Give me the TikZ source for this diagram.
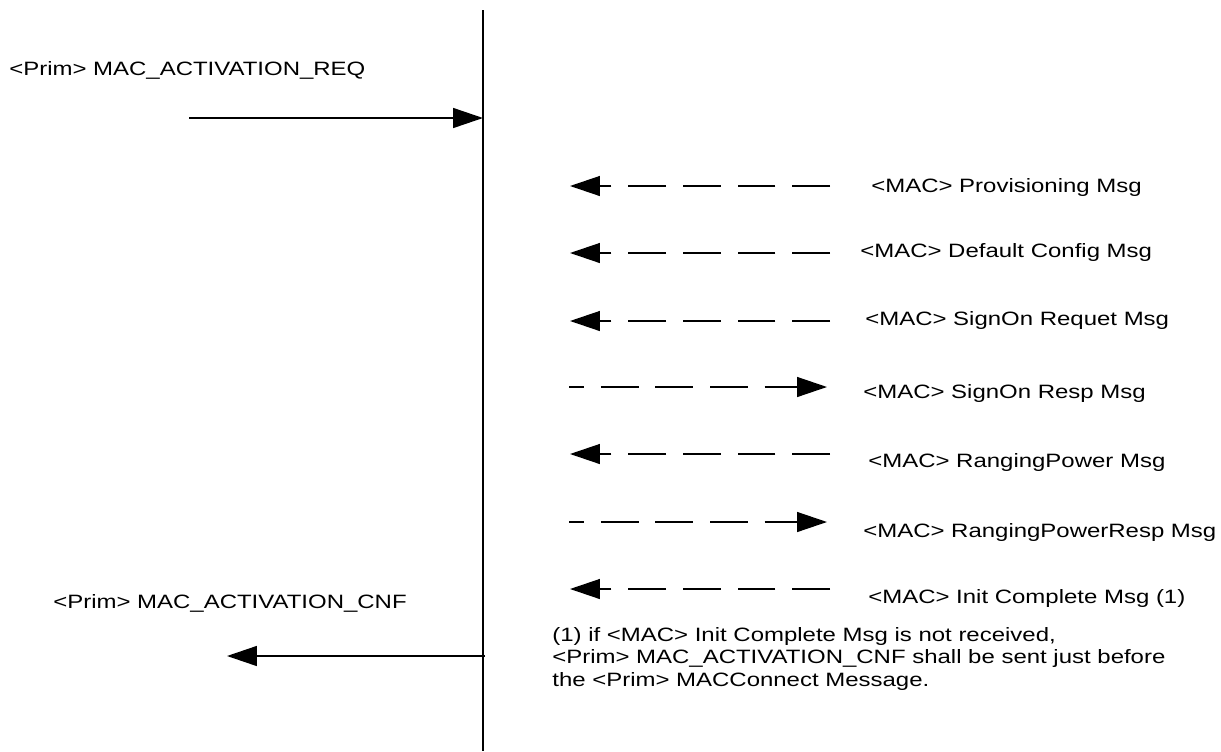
\documentclass[tikz,border=0pt]{standalone}
\usepackage{fontspec}
\setmainfont{Liberation Sans}[FakeStretch=1.24]
\usepackage{tikz}
\usetikzlibrary{arrows.meta, positioning, calc}

\begin{document}
\begin{tikzpicture}[
  x=0.02cm, y=-0.02cm,
  lbl/.style={inner sep=0pt, anchor=base west, font=\fontsize{11}{12.8}\selectfont},
  prim/.style={line width=1pt, -{Triangle[length=17pt, width=11.3pt]}},
  macmsg/.style={line width=0.9pt, dash pattern=on 21.5pt off 9.6pt, -{Triangle[length=17pt, width=11.3pt]}},
  macresp/.style={macmsg, dash phase=13pt}
]
  \useasboundingbox (0,0) rectangle (1221,751);

  % Lifeline
  \coordinate (lifetop) at (483,10);
  \coordinate (lifebot) at (483,751);
  \draw[line width=1pt] (lifetop) -- (lifebot);

  % Primitives
  \node[lbl] (req) at (9,75) {<Prim> MAC\_ACTIVATION\_REQ};
  \coordinate (reqstart) at (189,118);
  \draw[prim] (reqstart) -- (reqstart -| lifetop);

  \node[lbl] (cnf) at (53,608) {<Prim> MAC\_ACTIVATION\_CNF};
  \coordinate (cnfend) at (227,656);
  \draw[prim] ($(cnfend -| lifetop)+(2,0)$) -- (cnfend);

  % MAC messages
  \node[lbl] (prov) at (871,192) {<MAC> Provisioning Msg};
  \draw[macmsg] (830,186) coordinate (prov-r) -- (570,186) coordinate (prov-l);

  \node[lbl] (dflt) at (860,257) {<MAC> Default Config Msg};
  \draw[macmsg] (830,253) coordinate (dflt-r) -- (570,253) coordinate (dflt-l);

  \node[lbl] (sreq) at (865,325) {<MAC> SignOn Requet Msg};
  \draw[macmsg] (830,321) coordinate (sreq-r) -- (570,321) coordinate (sreq-l);

  \node[lbl] (sresp) at (863,398) {<MAC> SignOn Resp Msg};
  \draw[macresp] (569,387) coordinate (sresp-l) -- (827,387) coordinate (sresp-r);

  \node[lbl] (rpow) at (868,467) {<MAC> RangingPower Msg};
  \draw[macmsg] (830,454) coordinate (rpow-r) -- (570,454) coordinate (rpow-l);

  \node[lbl] (rresp) at (863,537) {<MAC> RangingPowerResp Msg};
  \draw[macresp] (569,522) coordinate (rresp-l) -- (827,522) coordinate (rresp-r);

  \node[lbl] (init) at (868,603) {<MAC> Init Complete Msg (1)};
  \draw[macmsg] (830,589) coordinate (init-r) -- (570,589) coordinate (init-l);

  % Footnote (base = last line)
  \node[lbl, align=left] (note) at (552,686)
    {(1) if <MAC> Init Complete Msg is not received,\\
     <Prim> MAC\_ACTIVATION\_CNF shall be sent just before\\
     the <Prim> MACConnect Message.};

\end{tikzpicture}
\end{document}
